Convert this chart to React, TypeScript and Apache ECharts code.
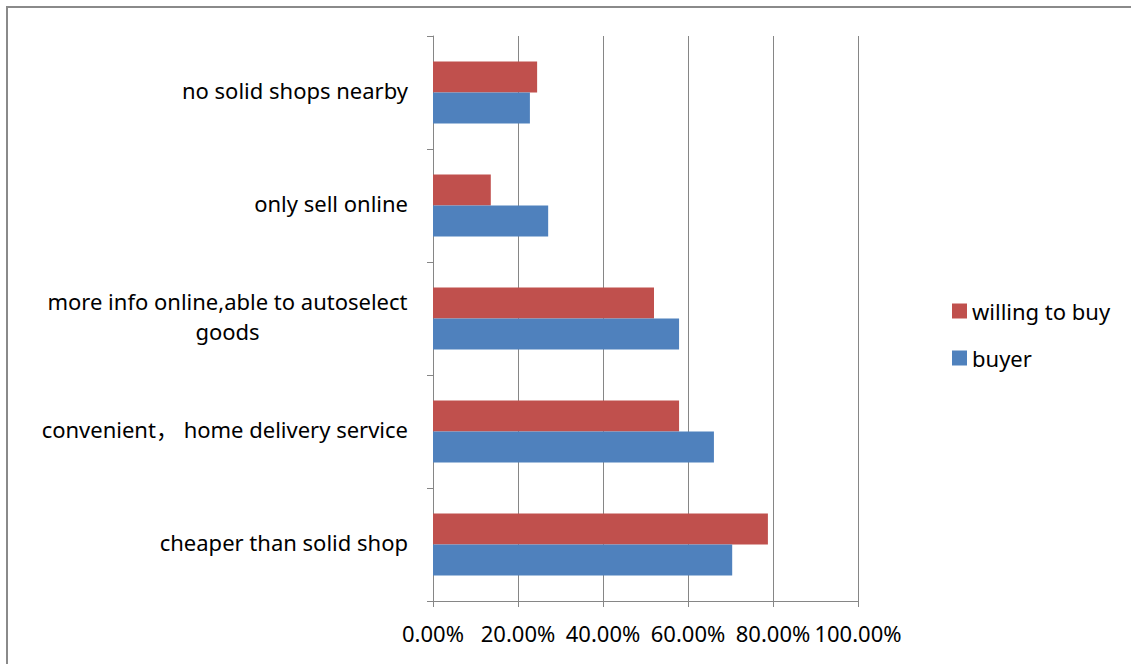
import React, { useEffect, useRef } from "react";
import * as echarts from "echarts";

const categories = [
  "cheaper than solid shop",
  "convenient， home delivery service",
  "more info online,able to autoselect goods",
  "only sell online",
  "no solid shops nearby",
];
const buyer = [70.4, 66.1, 57.9, 27.1, 22.8];
const willingToBuy = [78.8, 57.9, 52.0, 13.6, 24.5];
const legendOrder = ["willing to buy", "buyer"];
const wrappedLabel = "more info online,able to autoselect goods";
const wrappedLines = ["more info online,able to autoselect", "goods"];

const FONT = "'Noto Sans', 'Noto Sans CJK SC', sans-serif";
const FS = 22;
const GRAY = "#868686";

function measure(text: string): number {
  const c = document.createElement("canvas").getContext("2d")!;
  c.font = `${FS}px ${FONT}`;
  return Math.ceil(c.measureText(text).width);
}

export default function App() {
  const ref = useRef<HTMLDivElement>(null);
  useEffect(() => {
    const chart = echarts.init(ref.current!, undefined, { renderer: "svg" });
    const w = Math.max(...wrappedLines.map(measure));
    chart.setOption({
      animation: false,
      backgroundColor: "#ffffff",
      textStyle: { fontFamily: FONT },
      graphic: [
        {
          type: "rect",
          shape: { x: 7, y: 7, width: 1140, height: 680 },
          style: { fill: "none", stroke: "#8a8a8a", lineWidth: 2 },
          silent: true,
        },
      ],
      grid: { left: 433, right: 273, top: 36, bottom: 63, containLabel: false },
      legend: {
        data: legendOrder,
        orient: "vertical",
        left: 947,
        top: 295,
        itemWidth: 15,
        itemHeight: 15,
        itemGap: 25,
        icon: "rect",
        textStyle: { fontFamily: FONT, fontSize: FS, color: "#000" },
      },
      xAxis: {
        type: "value",
        min: 0,
        max: 100,
        interval: 20,
        axisLine: { show: true, lineStyle: { color: GRAY, width: 1 } },
        axisTick: { show: true, length: 6, lineStyle: { color: GRAY } },
        splitLine: { show: true, lineStyle: { color: GRAY, width: 1 } },
        axisLabel: {
          formatter: (v: number) => v.toFixed(2) + "%",
          fontFamily: FONT,
          fontSize: FS,
          color: "#000",
          margin: 21,
        },
      },
      yAxis: {
        type: "category",
        data: categories,
        axisLine: { show: true, lineStyle: { color: GRAY, width: 1 } },
        axisTick: { show: true, length: 6, lineStyle: { color: GRAY } },
        axisLabel: {
          fontFamily: FONT,
          fontSize: FS,
          color: "#000",
          margin: 25,
          lineHeight: 30,
          padding: [0, 0, 6, 0],
          formatter: (v: string) =>
            v === wrappedLabel
              ? wrappedLines.map((l) => `{c|${l}}`).join("\n")
              : v,
          rich: {
            c: { width: w, align: "center", fontFamily: FONT, fontSize: FS, color: "#000", lineHeight: 30 },
          },
        },
      },
      series: [
        {
          name: "willing to buy",
          type: "bar",
          data: willingToBuy,
          itemStyle: { color: "#C0504D" },
          barGap: "0%",
          barCategoryGap: "45%",
        },
        {
          name: "buyer",
          type: "bar",
          data: buyer,
          itemStyle: { color: "#4F81BD" },
          barGap: "0%",
          barCategoryGap: "45%",
        },
      ],
    });
    return () => chart.dispose();
  }, []);
  return (
    <div
      ref={ref}
      style={{ position: "fixed", left: 0, top: 0, width: 1131, height: 664 }}
    />
  );
}
